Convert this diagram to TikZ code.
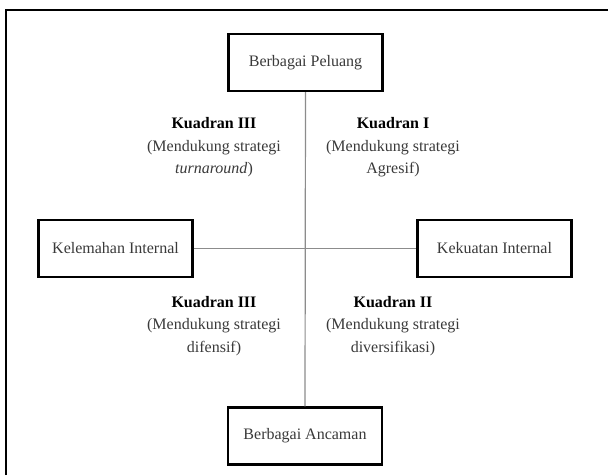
\documentclass[tikz,border=0pt]{standalone}
\usepackage{fontspec}
\setmainfont{Liberation Serif}
\definecolor{txt}{HTML}{3A3A3A}
\definecolor{axis}{HTML}{8C8C8C}
\begin{document}
\begin{tikzpicture}[x=1pt,y=-1pt,
  box/.style={draw=black,line width=2.4pt,minimum width=154pt,minimum height=57pt,
    inner sep=0pt,text=txt,font=\fontsize{16}{20}\selectfont},
  quad/.style={align=center,text=txt,inner sep=0pt,font=\fontsize{16}{22.5}\selectfont},
  axisline/.style={draw=axis,line width=1.2pt},
  frame/.style={draw=black,line width=2.4pt}]
\useasboundingbox (0,0) rectangle (608,475);
\fill[white] (0,0) rectangle (608,475);
% outer frame (open at right and bottom, clipped by the page)
\coordinate (fbl) at (6,475);
\coordinate (ftl) at (6,10);
\coordinate (ftr) at (608,10);
\draw[frame] (fbl) -- (ftl) -- (ftr);
% boxes
\node[box] (pel) at (305.5,62.5) {Berbagai Peluang};
\node[box] (lem) at (115.5,248.5) {Kelemahan Internal};
\node[box] (kek) at (494.5,248.5) {Kekuatan Internal};
\node[box] (anc) at (305,436) {Berbagai Ancaman};
% axes
\draw[axisline] (pel.south) -- (anc.north);
\draw[axisline] (lem.east) -- (kek.west);
% quadrant texts
\node[quad] (q3a) at (214,147.5) {\textbf{\color{black}Kuadran III}\\(Mendukung strategi\\\textit{turnaround})};
\node[quad] (q1) at (393,147.5) {\textbf{\color{black}Kuadran I}\\(Mendukung strategi\\Agresif)};
\node[quad] (q3b) at (214,326) {\textbf{\color{black}Kuadran III}\\(Mendukung strategi\\difensif)};
\node[quad] (q2) at (393,326) {\textbf{\color{black}Kuadran II}\\(Mendukung strategi\\diversifikasi)};
\end{tikzpicture}
\end{document}
